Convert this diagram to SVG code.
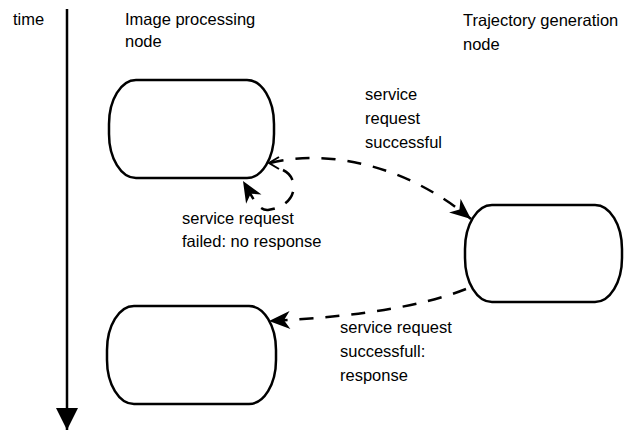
<svg xmlns="http://www.w3.org/2000/svg" width="625" height="431" viewBox="0 0 625 431">
  <style>
    .node { fill: #ffffff; stroke: #000000; stroke-width: 2.5; }
    .lbl { font-family: "Liberation Sans", Arial, sans-serif; font-size: 16.5px; fill: #000000; }
    .edge { fill: none; stroke: #000000; stroke-width: 2.5; stroke-dasharray: 14 12; }
  </style>
  <defs>
    <marker id="arrow" markerUnits="userSpaceOnUse" viewBox="-22 -11 24 22" refX="0" refY="0" markerWidth="24" markerHeight="22" orient="auto">
      <path d="M0,0 L-21,-9 L-15,0 L-21,9 Z" fill="#000000" stroke="none"/>
    </marker>
    <marker id="timearrow" markerUnits="userSpaceOnUse" viewBox="-24 -12 26 24" refX="0" refY="0" markerWidth="26" markerHeight="24" orient="auto">
      <path d="M0,0 L-22,-11 L-22,11 Z" fill="#000000" stroke="none"/>
    </marker>
  </defs>

  <g id="time-axis">
    <line x1="67" y1="9" x2="67" y2="430" stroke="#000000" stroke-width="2.5" marker-end="url(#timearrow)"/>
    <text class="lbl" x="13" y="25">time</text>
  </g>

  <g id="header-image">
    <text class="lbl" x="125" y="25">Image processing</text>
    <text class="lbl" x="125" y="47">node</text>
  </g>
  <g id="header-trajectory">
    <text class="lbl" x="463" y="26">Trajectory generation</text>
    <text class="lbl" x="463" y="50">node</text>
  </g>

  <g id="node-image-1">
    <rect class="node" x="109" y="80" width="165" height="98" rx="27" ry="44"/>
  </g>
  <g id="node-trajectory">
    <rect class="node" x="465" y="205" width="157" height="97" rx="27" ry="44"/>
  </g>
  <g id="node-image-2">
    <rect class="node" x="107" y="306" width="169" height="98" rx="27" ry="44"/>
  </g>

  <g id="connectors">
    <path class="edge" d="M270,163 C320,150 400,160 471,219" marker-end="url(#arrow)"/>
    <path d="M279,157 L269,163 L279,169" fill="none" stroke="#000000" stroke-width="2"/>
    <path class="edge" d="M283,170 C300,178 298,206 268,210 C258,211 252,196 243,181" marker-end="url(#arrow)"/>
    <path class="edge" d="M466,289 Q400,315 269,321" marker-end="url(#arrow)"/>
  </g>

  <g id="labels">
    <text class="lbl" x="365" y="100">service</text>
    <text class="lbl" x="365" y="124">request</text>
    <text class="lbl" x="365" y="148">successful</text>
    <text class="lbl" x="182" y="224">service request</text>
    <text class="lbl" x="182" y="247">failed: no response</text>
    <text class="lbl" x="340" y="333">service request</text>
    <text class="lbl" x="340" y="357">successfull:</text>
    <text class="lbl" x="340" y="381">response</text>
  </g>
</svg>
